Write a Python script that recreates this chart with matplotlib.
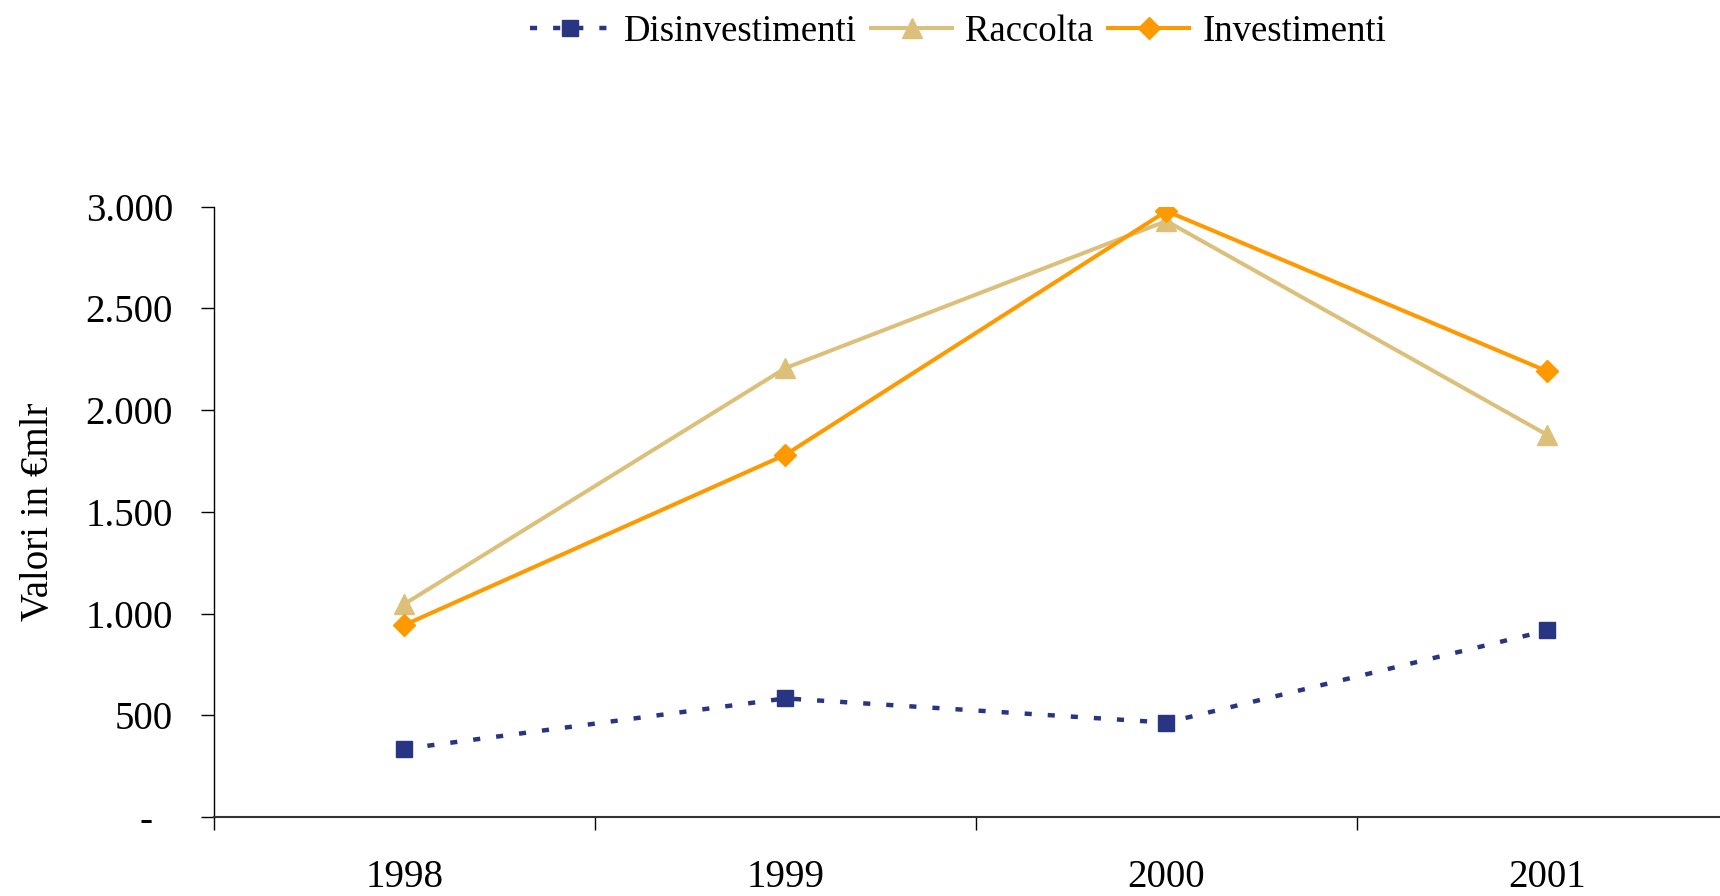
import matplotlib.pyplot as plt
from matplotlib.ticker import FixedLocator, FuncFormatter

plt.rcParams['font.family'] = ['Liberation Serif', 'DejaVu Serif']

# dati (valori in € mlr)
anni = ['1998', '1999', '2000', '2001']
disinvestimenti = [335, 583, 464, 917]
raccolta = [1047, 2207, 2930, 1878]
investimenti = [944, 1781, 2979, 2191]

x = list(range(len(anni)))

fig = plt.figure(figsize=(17.2, 8.96), dpi=100)
ax = fig.add_axes([0.1244, 0.0882, 0.8756, 0.681])

ax.plot(x, disinvestimenti, color='#283583', linewidth=3.2, linestyle=(0, (1.6, 3.6)),
        marker='s', markersize=12, label='Disinvestimenti')
ax.plot(x, raccolta, color='#DCC07A', linewidth=2.9,
        marker='^', markersize=14, label='Raccolta')
ax.plot(x, investimenti, color='#FF9900', linewidth=2.9,
        marker='D', markersize=11, label='Investimenti')

ax.set_xlim(-0.5, 3.453)
ax.set_ylim(0, 3000)

# tick di categoria ai bordi, etichette al centro
ax.xaxis.set_major_locator(FixedLocator([-0.5, 0.5, 1.5, 2.5]))
ax.xaxis.set_major_formatter(FuncFormatter(lambda v, p: ''))
ax.xaxis.set_minor_locator(FixedLocator(x))
ax.set_xticklabels(anni, minor=True)
ax.tick_params(axis='x', which='major', direction='out', length=9.5, width=1)
ax.tick_params(axis='x', which='minor', length=0, pad=30, labelsize=28)

ax.set_yticks([0, 500, 1000, 1500, 2000, 2500, 3000])
ax.yaxis.set_major_formatter(FuncFormatter(
    lambda v, p: '-  ' if v == 0 else f'{int(v):,}'.replace(',', '.')))
ax.tick_params(axis='y', direction='out', length=9.5, width=1, pad=20, labelsize=28)

for s in ['top', 'right']:
    ax.spines[s].set_visible(False)
ax.spines['left'].set_linewidth(1)
ax.spines['bottom'].set_linewidth(1.5)
ax.spines['bottom'].set_color('#333333')

ax.set_ylabel('Valori in €mlr', fontsize=28)
ax.yaxis.set_label_coords(-0.104, 0.5)

fig.legend(loc='upper center', bbox_to_anchor=(0.557, 1.004), ncol=3, frameon=False,
           fontsize=26.5, handlelength=2.2, handletextpad=0.35, columnspacing=0.4,
           borderaxespad=0.1)

fig.savefig('out.png', dpi=100)
